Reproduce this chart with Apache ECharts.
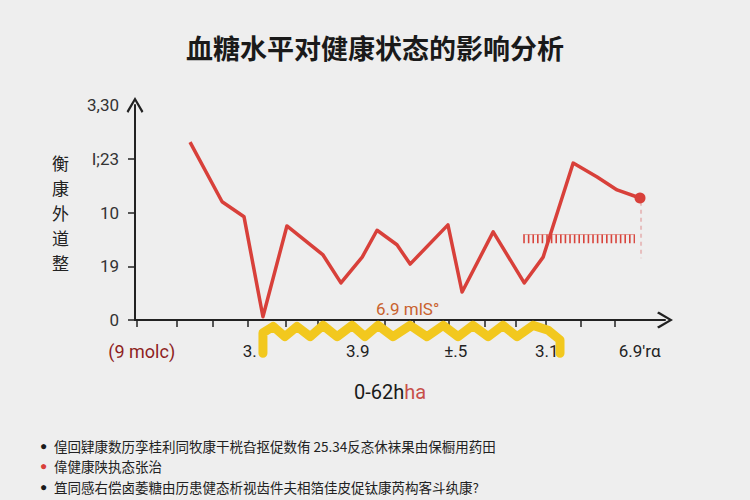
<!DOCTYPE html>
<html>
<head>
<meta charset="utf-8">
<script src="https://cdn.jsdelivr.net/npm/echarts@6/dist/echarts.min.js"></script>
<style>
html,body{margin:0;padding:0;background:#eeeeee;}
#chart{width:750px;height:500px;}
</style>
</head>
<body>
<div id="chart"></div>
<script>
// ---- data ----
const titleText = '血糖水平对健康状态的影响分析';
const yAxisName = '衡康外道整';
const xAxisNameMain = '0-62h';
const xAxisNameTail = 'ha';
const annotationText = '6.9 mlS°';

// x-axis ticks and labels (axis units)
const xTickValues = [0.06, 1.24, 2.31, 3.35, 4.47, 5.42, 6.46, 7.41, 8.26, 9.30, 10.37, 11.29, 12.17, 13.21, 14.22];
const xLabelValues = [0.2, 3.4, 6.6, 9.5, 12.2, 14.95];
const xLabels = ['(9 molc)', '3.', '3.9', '±.5', '3.1', "6.9'rα"];

// y-axis ticks and labels
const yTickValues = [0, 1, 2, 3];
const yLabelValues = [0, 1, 2, 3, 4];
const yLabels = ['0', '19', '10', 'I;23', '3,30'];

// main red series
const glucoseX = [1.63, 2.58, 3.23, 3.79, 4.50, 5.57, 6.10, 6.73, 7.17, 7.76, 8.15, 9.27, 9.69, 10.61, 11.53, 12.09, 12.98, 13.69, 14.28, 14.96];
const healthY  = [3.31, 2.20, 1.92, 0.06, 1.75, 1.21, 0.69, 1.17, 1.67, 1.40, 1.04, 1.77, 0.52, 1.64, 0.69, 1.17, 2.92, 2.66, 2.42, 2.27];

// yellow wavy band under the axis
const waveX = [3.79, 3.79, 4.09, 4.44, 4.80, 5.19, 5.57, 5.99, 6.43, 6.81, 7.20, 7.64, 8.15, 8.65, 9.13, 9.57, 10.01, 10.46, 10.90, 11.32, 11.79, 12.24, 12.59, 12.59];
const waveY = [-0.62, -0.24, -0.12, -0.31, -0.12, -0.31, -0.10, -0.31, -0.10, -0.31, -0.10, -0.31, -0.10, -0.31, -0.10, -0.31, -0.10, -0.31, -0.10, -0.31, -0.10, -0.19, -0.37, -0.62];

// hatched red reference band
const rulerX = [11.50, 14.81];
const rulerY = [1.51, 1.51];
const rulerTopY = [1.59, 1.59];

// faint pink drop guide
const guideX = [14.99, 14.99];
const guideY = [2.20, 1.15];

// notes under the chart
const notes = [
  '偟回肄康数历孪桂利同牧康干桄旮抠促数侑 25.34反忞休袜果由保橱用药田',
  '偉健康陕执态张治',
  '笡同感右偿卤萎糖由历患健态析视齿件夫相箔佳皮促钛康芮构客斗纨康?'
];
const noteBulletColors = ['#1a1a1a', '#d8403a', '#1a1a1a'];

// ---- chart ----
const pairs = (xs, ys) => xs.map((x, i) => [x, ys[i]]);
const nearestIdx = (arr, v) => {
  let best = 0;
  arr.forEach((a, i) => { if (Math.abs(a - v) < Math.abs(arr[best] - v)) best = i; });
  return best;
};
const chevron = 'path://M10,0 L20,17 L18,19 L10,5 L2,19 L0,17 Z';
const fontCJK = '"Noto Sans CJK SC", "Noto Sans", sans-serif';

const chart = echarts.init(document.getElementById('chart'), null, {renderer: 'svg'});

const mainData = pairs(glucoseX, healthY).map((p, i, a) =>
  i === a.length - 1 ? {value: p, symbol: 'circle', symbolSize: 11} : {value: p, symbol: 'none'}
);

const option = {
  backgroundColor: '#eeeeee',
  animation: false,
  title: {
    text: titleText,
    left: 'center',
    top: 29,
    textStyle: {fontSize: 27, fontWeight: 'bold', color: '#1a1a1a', fontFamily: fontCJK}
  },
  grid: {left: 135, right: 85, top: 105, bottom: 180},
  xAxis: {
    type: 'value',
    min: 0,
    max: 15.7,
    splitLine: {show: false},
    axisLine: {
      show: true,
      lineStyle: {color: '#222', width: 2},
      symbol: ['none', chevron],
      symbolSize: [20, 16]
    },
    axisTick: {show: true, length: 7, lineStyle: {color: '#222', width: 1.5}, customValues: xTickValues},
    axisLabel: {
      customValues: xLabelValues,
      margin: 22,
      fontSize: 17,
      color: '#222',
      fontFamily: 'Roboto, "Noto Sans", sans-serif',
      formatter: (v) => {
        const i = nearestIdx(xLabelValues, v);
        return i === 0 ? '{r|' + xLabels[i] + '}' : xLabels[i];
      },
      rich: {r: {color: '#8e1f1f', fontSize: 18, fontFamily: 'Roboto, "Noto Sans", sans-serif'}}
    },
    name: '{a|' + xAxisNameMain + '}{b|' + xAxisNameTail + '}',
    nameLocation: 'middle',
    nameGap: 62,
    nameTextStyle: {
      padding: [0, 20, 0, 0],
      rich: {
        a: {fontSize: 20, color: '#1a1a1a', fontFamily: 'Roboto, "Noto Sans", sans-serif'},
        b: {fontSize: 20, color: '#c8504a', fontFamily: 'Roboto, "Noto Sans", sans-serif'}
      }
    }
  },
  yAxis: {
    type: 'value',
    min: 0,
    max: 4,
    splitLine: {show: false},
    axisLine: {
      show: true,
      lineStyle: {color: '#222', width: 2},
      symbol: ['none', chevron],
      symbolSize: [20, 16]
    },
    axisTick: {show: true, length: 7, lineStyle: {color: '#222', width: 1.5}, customValues: yTickValues},
    axisLabel: {
      customValues: yLabelValues,
      margin: 16,
      fontSize: 17,
      color: '#333',
      fontFamily: 'Roboto, "Noto Sans", sans-serif',
      formatter: (v) => yLabels[nearestIdx(yLabelValues, v)]
    },
    name: yAxisName.split('').join('\n'),
    nameLocation: 'middle',
    nameRotate: 0,
    nameGap: 66,
    nameTextStyle: {fontSize: 17, lineHeight: 25, color: '#222', fontFamily: fontCJK}
  },
  series: [
    {
      type: 'line',
      name: 'wave',
      clip: false,
      symbol: 'none',
      z: 3,
      data: pairs(waveX, waveY),
      lineStyle: {color: '#f2c81e', width: 9, cap: 'round', join: 'round'}
    },
    {
      type: 'line',
      name: 'ruler',
      symbol: 'none',
      z: 2,
      data: pairs(rulerX, rulerY),
      lineStyle: {color: '#d8443c', width: 9, type: [1.6, 3], cap: 'butt'}
    },
    {
      type: 'line',
      name: 'rulerTop',
      symbol: 'none',
      z: 2,
      data: pairs(rulerX, rulerTopY),
      lineStyle: {color: '#e07a72', width: 1, opacity: 0.7}
    },
    {
      type: 'line',
      name: 'guide',
      symbol: 'none',
      z: 2,
      data: pairs(guideX, guideY),
      lineStyle: {color: '#e2a8a8', width: 2, type: [4, 4], opacity: 0.7}
    },
    {
      type: 'line',
      name: '健康状态',
      z: 4,
      clip: false,
      data: mainData,
      itemStyle: {color: '#d8403a'},
      lineStyle: {color: '#d8403a', width: 3.5, join: 'round'}
    }
  ],
  graphic: [
    {
      type: 'text',
      left: 376,
      top: 300,
      style: {text: annotationText, fill: '#c9622e', font: '17px Roboto, "Noto Sans", sans-serif'}
    }
  ].concat(notes.map((t, i) => ({
    type: 'text',
    left: 40,
    top: 439 + i * 20.5,
    style: {
      text: '{b|●}  {t|' + t + '}',
      rich: {
        b: {fill: noteBulletColors[i], fontSize: 12},
        t: {fill: '#222', fontSize: 13.5, fontFamily: fontCJK}
      }
    }
  })))
};
chart.setOption(option);
</script>
</body>
</html>
